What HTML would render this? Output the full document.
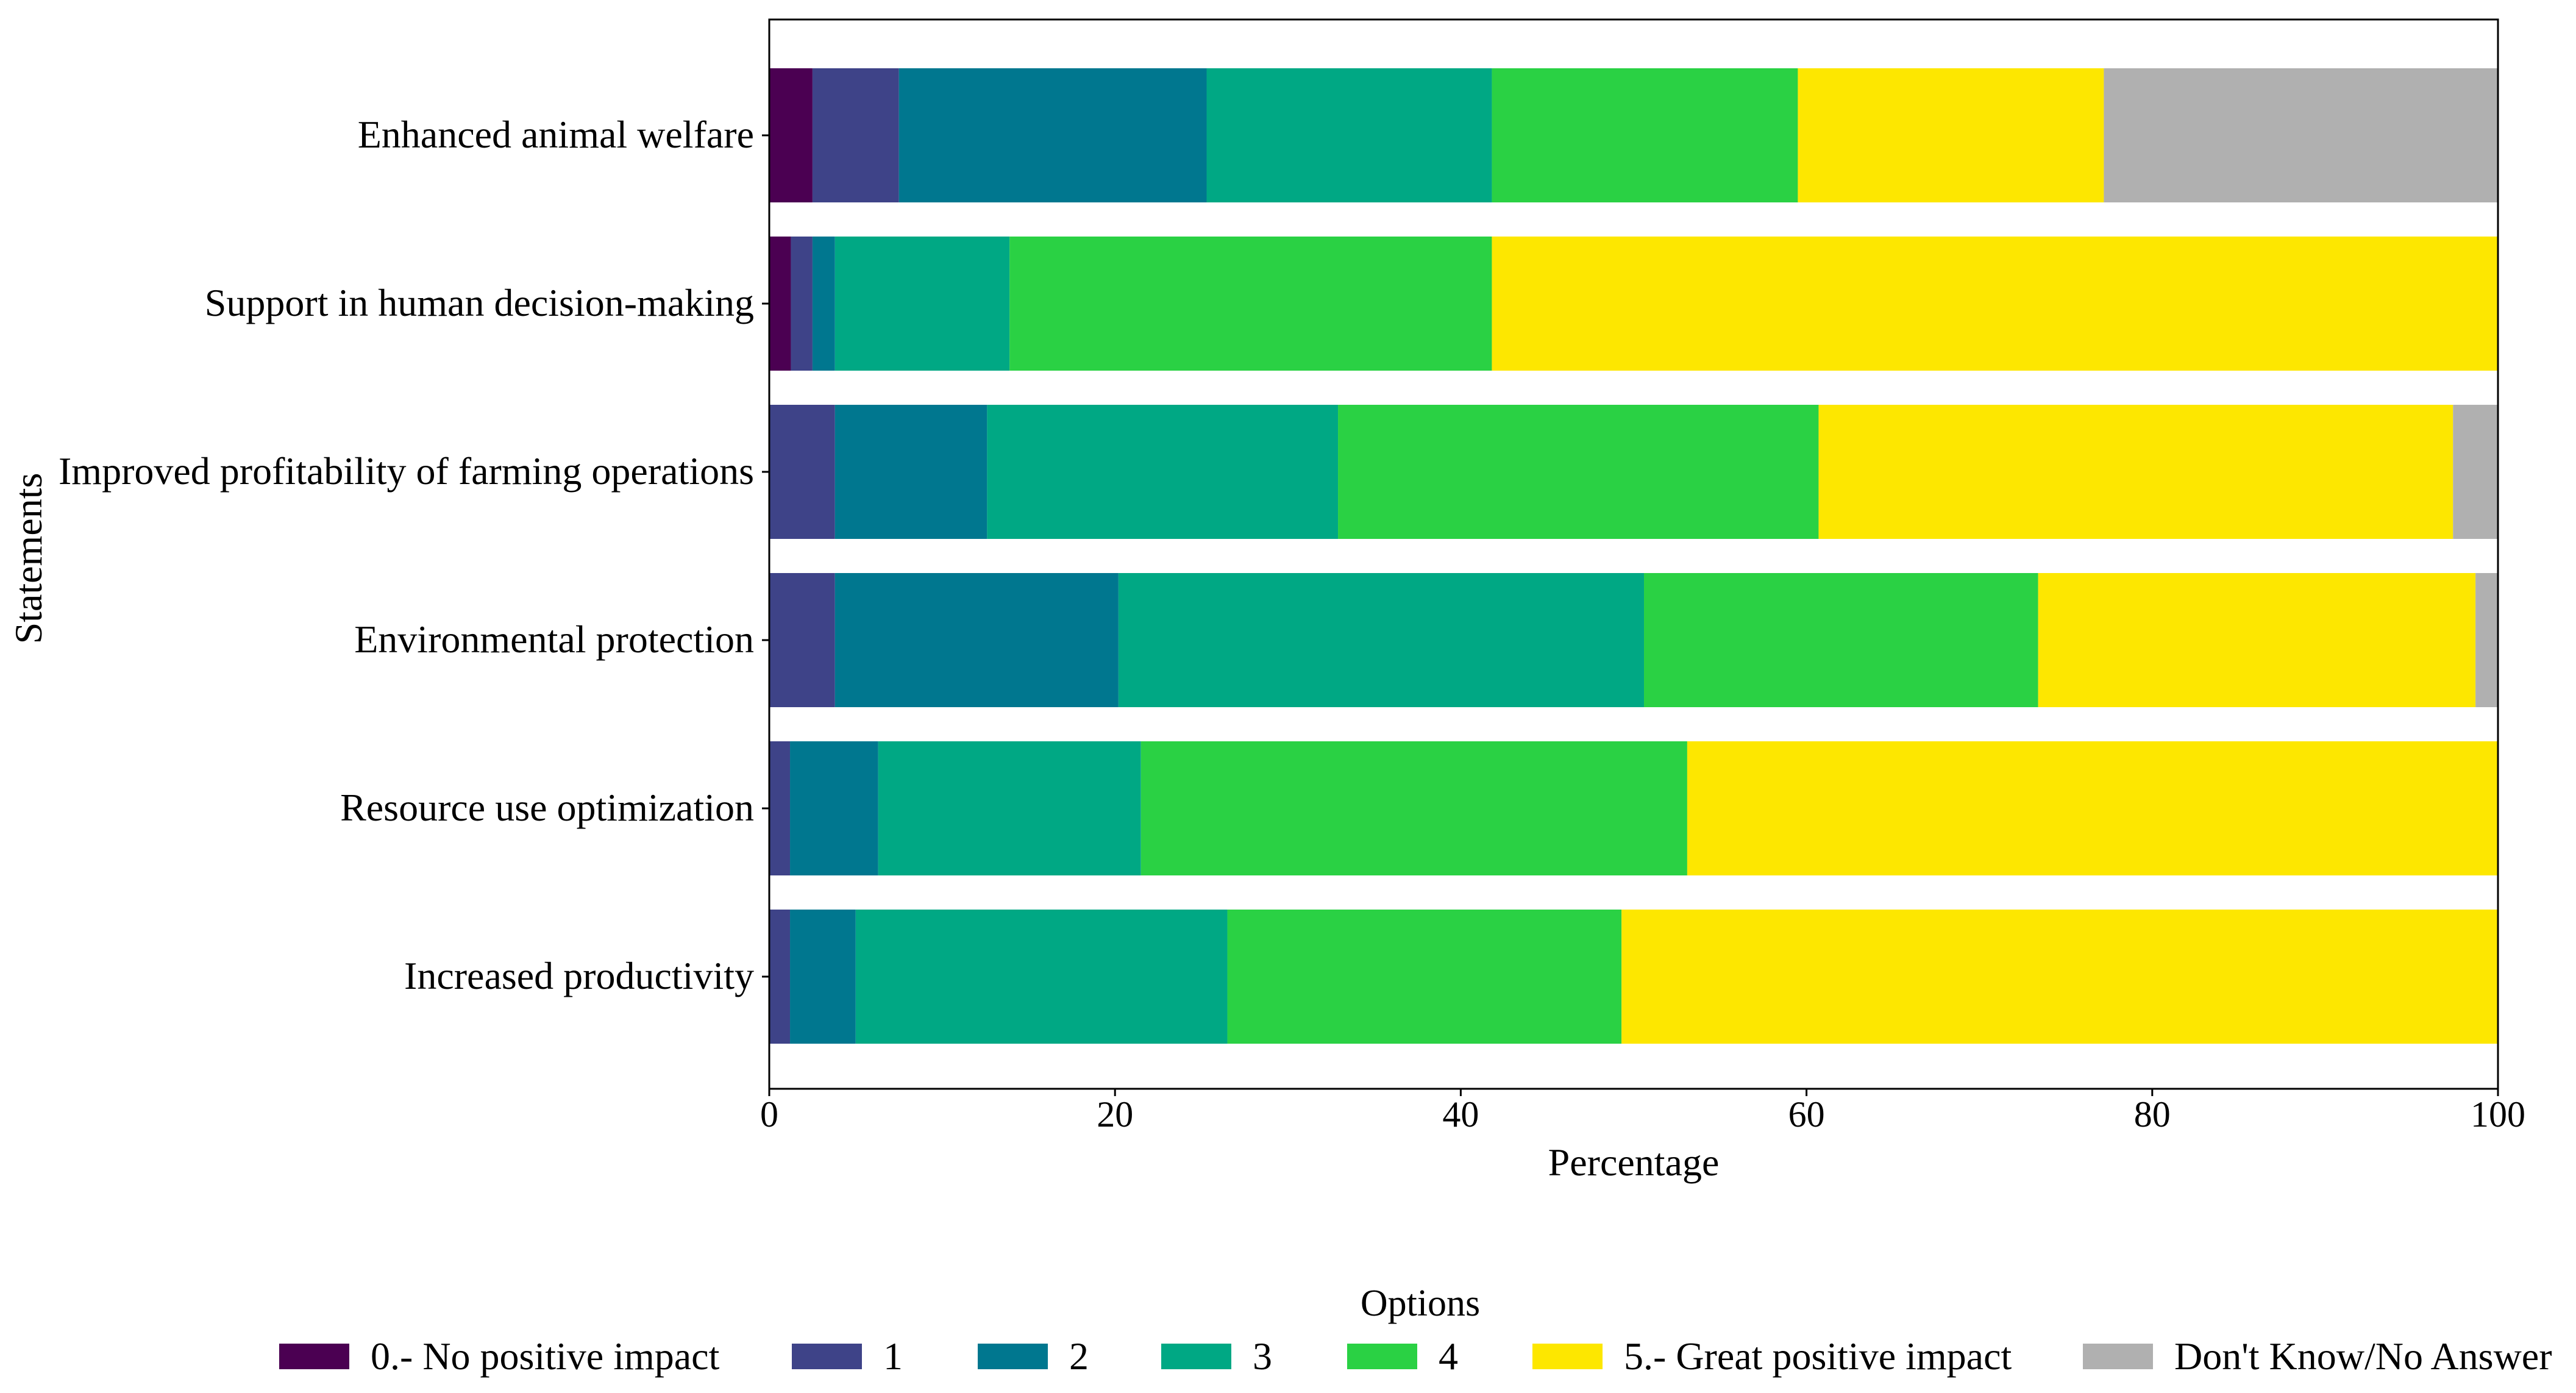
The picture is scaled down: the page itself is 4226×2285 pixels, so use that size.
<!DOCTYPE html>
<html><head><meta charset="utf-8">
<style>
html,body{margin:0;padding:0;background:#fff;}
svg{display:block;font-family:"Liberation Serif",serif;}
</style></head>
<body>
<svg id="chart" width="4226" height="2285" viewBox="0 0 4226 2285" xmlns="http://www.w3.org/2000/svg">
<rect x="0" y="0" width="4226" height="2285" fill="#fff"/>
<g id="bars"></g>
<g id="axes"></g>
<g id="legend"></g>
</svg>
<script>
const categories = ["Enhanced animal welfare","Support in human decision-making","Improved profitability of farming operations","Environmental protection","Resource use optimization","Increased productivity"];
const options = ["0.- No positive impact","1","2","3","4","5.- Great positive impact","Don't Know/No Answer"];
const colors = ["#4b0052","#3e4388","#00778f","#00a884","#2ad144","#fde700","#b0b0b0"];
const opt0 = [2.5, 1.25, 0, 0, 0, 0];
const opt1 = [5.0, 1.25, 3.8, 3.8, 1.2, 1.2];
const opt2 = [17.8, 1.3, 8.8, 16.4, 5.1, 3.8];
const opt3 = [16.5, 10.1, 20.3, 30.4, 15.2, 21.5];
const opt4 = [17.7, 27.9, 27.8, 22.8, 31.6, 22.8];
const opt5 = [17.7, 58.2, 36.7, 25.3, 46.9, 50.7];
const optDK = [22.8, 0, 2.6, 1.3, 0, 0];
const xTicks = [0, 20, 40, 60, 80, 100];

const NS = "http://www.w3.org/2000/svg";
const L = 1262, R = 4098, T = 32, B = 1786;
const rowStep = 276, firstCenter = 222, barH = 220;
function xs(v){ return L + (v/100)*(R-L); }
function yc(i){ return firstCenter + i*rowStep; }
function mk(tag, attrs, parent){
  const e = document.createElementNS(NS, tag);
  for (const k in attrs) e.setAttribute(k, attrs[k]);
  parent.appendChild(e);
  return e;
}
const series = [opt0, opt1, opt2, opt3, opt4, opt5, optDK];
const gb = document.getElementById('bars');
categories.forEach((c, i) => {
  let cum = 0;
  series.forEach((s, k) => {
    const v = s[i];
    if (v > 0) {
      const r = mk('rect', {x: xs(cum), y: yc(i)-barH/2, width: xs(cum+v)-xs(cum), height: barH, fill: colors[k]}, gb);
      
      
    }
    cum += v;
  });
});
const ga = document.getElementById('axes');
const frame = mk('rect', {x: L, y: T, width: R-L, height: B-T, fill: 'none', stroke: '#000', 'stroke-width': 3}, ga);


xTicks.forEach(t => {
  mk('line', {x1: xs(t), x2: xs(t), y1: B, y2: B+12, stroke: '#000', 'stroke-width': 3}, ga);
  const tx = mk('text', {x: xs(t), y: B+62, 'font-size': 60, 'text-anchor': 'middle', fill: '#000'}, ga);
  tx.textContent = t;
  
  
});
categories.forEach((c, i) => {
  mk('line', {x1: L-12, x2: L, y1: yc(i), y2: yc(i), stroke: '#000', 'stroke-width': 3}, ga);
  const tx = mk('text', {x: L-25, y: yc(i)+20, 'font-size': 64, 'text-anchor': 'end', fill: '#000'}, ga);
  tx.textContent = c;
  
  
});
const xt = mk('text', {x: (L+R)/2, y: 1928, 'font-size': 64, 'text-anchor': 'middle', fill: '#000'}, ga);
xt.textContent = 'Percentage';


const yt = mk('text', {x: 0, y: 0, 'font-size': 64, 'text-anchor': 'middle', fill: '#000', transform: 'translate(68,916) rotate(-90)'}, ga);
yt.textContent = 'Statements';



const gl = document.getElementById('legend');
const lt = mk('text', {x: 2330, y: 2158, 'font-size': 62, 'text-anchor': 'middle', fill: '#000'}, gl);
lt.textContent = 'Options';


const patchX = [458, 1299, 1604, 1905, 2210, 2514, 3417];
options.forEach((o, k) => {
  const g = mk('g', {}, gl);
  
  
  mk('rect', {x: patchX[k], y: 2204, width: 115, height: 42, fill: colors[k]}, g);
  const t = mk('text', {x: patchX[k]+150, y: 2246, 'font-size': 64, fill: '#000'}, g);
  t.textContent = o;
});
</script>
</body></html>
